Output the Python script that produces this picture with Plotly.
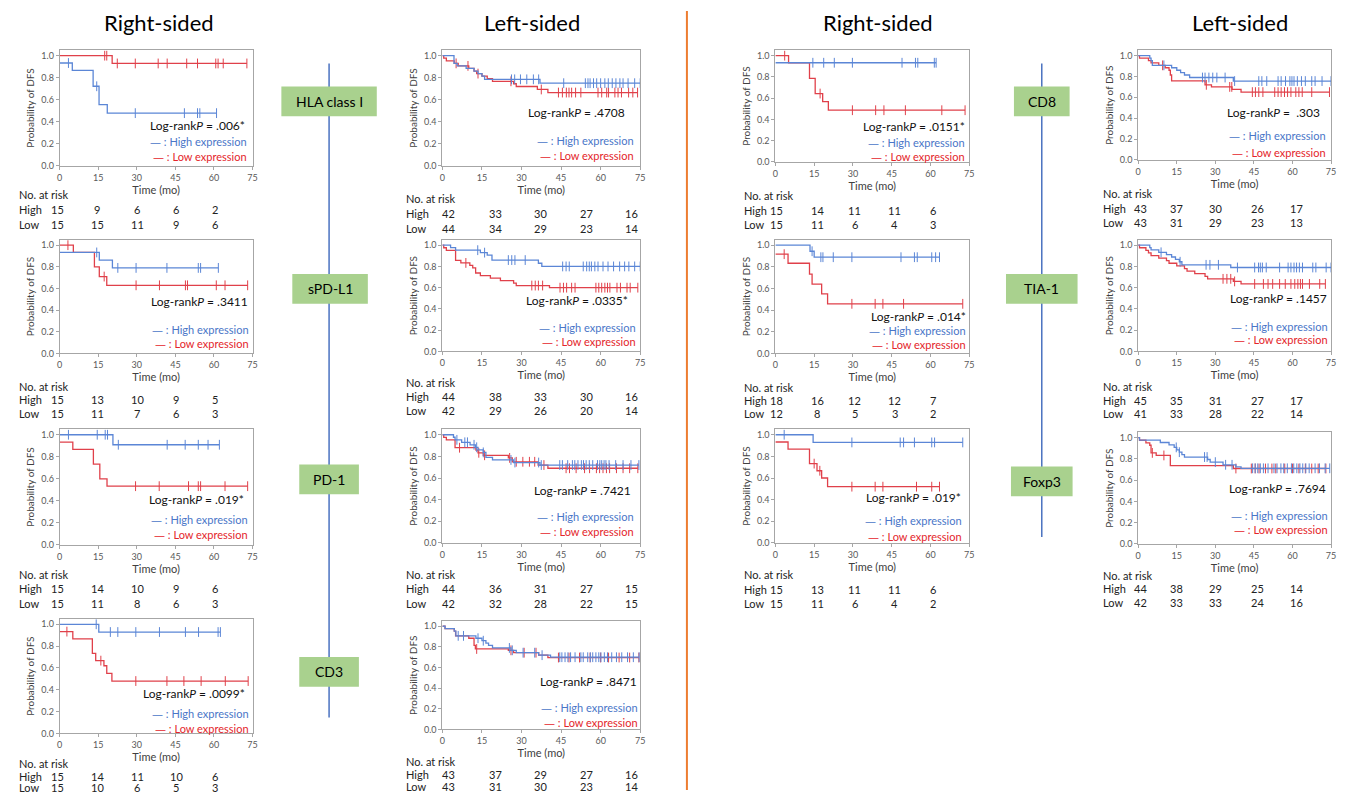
import plotly.graph_objects as go

# page body has an 8px margin: the figure is drawn at (8, 8) in the window
OFF = 8
W, H = 1333, 788
FONT = "Lato"
BLUE_LINE = "#5b86d6"
RED_LINE = "#e0404a"
BLUE_TXT = "#4a76c8"
RED_TXT = "#e4252b"
AXIS_COL = "#a6a6a6"
TICK_TXT = "#595959"

X_TICKS = [0, 15, 30, 45, 60, 75]
Y_TICKS = [0.0, 0.2, 0.4, 0.6, 0.8, 1.0]

HEADERS = ["Right-sided", "Left-sided", "Right-sided", "Left-sided"]
MARKERS = ["HLA class I", "sPD-L1", "PD-1", "CD3", "CD8", "TIA-1", "Foxp3"]

# ---------------- data: Kaplan-Meier steps (time, survival) and censor times ----------------
# 1 HLA class I, right-sided
HLA_R_HI_T = [0, 4.9, 13, 15.3, 18.5]
HLA_R_HI_S = [0.933, 0.867, 0.722, 0.556, 0.478]
HLA_R_HI_C = [3.4, 14.4, 29.4, 48.5, 53.6, 54.5, 61]
HLA_R_LO_T = [0, 20.4]
HLA_R_LO_S = [1.0, 0.929]
HLA_R_LO_C = [17.5, 18.3, 22.4, 29.4, 38.3, 41.8, 49.4, 53.6, 60.7, 61.6, 63.6, 72.8]
HLA_R_RISK_HI = [15, 9, 6, 6, 2]
HLA_R_RISK_LO = [15, 15, 11, 9, 6]

# 2 HLA class I, left-sided
HLA_L_HI_T = [0, 4.4, 5.6, 9, 12, 13.5, 15, 16, 37]
HLA_L_HI_S = [1.0, 0.93, 0.907, 0.884, 0.86, 0.837, 0.814, 0.785, 0.75]
HLA_L_HI_C = [26.2, 27.4, 29.6, 32, 34.5, 36.5, 46, 54.2, 55.2, 56, 57.3, 58.5, 60, 61.6,
              62.9, 64.4, 65.8, 67.3, 68.5, 70.4, 72.9, 75]
HLA_L_LO_T = [0, 0.5, 1.5, 4.5, 6, 10, 12, 13, 15, 17, 19, 27, 28, 36, 40]
HLA_L_LO_S = [1.0, 0.977, 0.953, 0.93, 0.907, 0.884, 0.86, 0.837, 0.814, 0.79, 0.767,
              0.745, 0.72, 0.693, 0.665]
HLA_L_LO_C = [5.2, 9.7, 13.5, 26, 37.5, 44, 45.5, 47, 48, 49, 50.5, 52.5, 59, 60.4, 62.3,
              63, 65.4, 66.6, 67.9, 70.6, 72.2, 74]
HLA_L_RISK_HI = [42, 33, 30, 27, 16]
HLA_L_RISK_LO = [44, 34, 29, 23, 14]

# 3 sPD-L1, right-sided
SPD_R_HI_T = [0, 15.4, 20.5]
SPD_R_HI_S = [0.933, 0.862, 0.79]
SPD_R_HI_C = [14.4, 22.6, 29.7, 41.7, 53.9, 54.8, 61.7]
SPD_R_LO_T = [0, 5.3, 13.5, 15.4, 18.3]
SPD_R_LO_S = [1.0, 0.933, 0.8, 0.71, 0.629]
SPD_R_LO_C = [3.2, 17.3, 29.7, 38.8, 48.9, 49.7, 60.9, 64.3, 73.1]
SPD_R_RISK_HI = [15, 13, 10, 9, 5]
SPD_R_RISK_LO = [15, 11, 7, 6, 3]

# 4 sPD-L1, left-sided
SPD_L_HI_T = [0, 3.1, 5, 14.4, 17, 18.8, 36.4, 37.7]
SPD_L_HI_S = [1.0, 0.977, 0.953, 0.93, 0.907, 0.86, 0.83, 0.80]
SPD_L_HI_C = [13.4, 16, 25, 26.3, 27.5, 31.4, 45.6, 46.9, 48.1, 53.4, 54.7, 55.7, 56.5,
              57.8, 59, 60.9, 62.8, 64.9, 67.2, 69.1, 70.7, 72.9, 75]
SPD_L_LO_T = [0, 0.5, 1.5, 5, 7, 10.4, 11.5, 12.6, 14.4, 18.2, 22, 27, 28, 40.6]
SPD_L_LO_S = [1.0, 0.976, 0.952, 0.857, 0.833, 0.81, 0.786, 0.738, 0.714, 0.69, 0.667,
              0.643, 0.62, 0.60]
SPD_L_LO_C = [8.9, 33.9, 35.2, 36.4, 38, 44.6, 45.9, 47.1, 49, 50.3, 58.2, 59.3, 60.4,
              61.6, 62.6, 63.5, 66.2, 67.5, 70, 71.2, 74.1]
SPD_L_RISK_HI = [44, 38, 33, 30, 16]
SPD_L_RISK_LO = [42, 29, 26, 20, 14]

# 5 PD-1, right-sided
PD1_R_HI_T = [0, 20.7]
PD1_R_HI_S = [1.0, 0.909]
PD1_R_HI_C = [3.4, 14.6, 17.7, 18.6, 22.8, 41.8, 48.8, 53.9, 57.7, 62.1]
PD1_R_LO_T = [0, 5.1, 13.1, 15.6, 18.4]
PD1_R_LO_S = [0.933, 0.867, 0.733, 0.6, 0.533]
PD1_R_LO_C = [29.5, 38.7, 50.1, 53.9, 54.8, 64.3, 73.1]
PD1_R_RISK_HI = [15, 14, 10, 9, 6]
PD1_R_RISK_LO = [15, 11, 8, 6, 3]

# 6 PD-1, left-sided
PD1_L_HI_T = [0, 4.2, 4.8, 7.3, 10.5, 12.5, 13.5, 15.5, 16.5, 19, 27, 37]
PD1_L_HI_S = [1.0, 0.977, 0.953, 0.93, 0.907, 0.884, 0.86, 0.837, 0.79, 0.767, 0.743, 0.72]
PD1_L_HI_C = [5.5, 8.5, 9.5, 12, 13, 15.5, 26, 27.5, 36.5, 37.5, 44.5, 45.5, 47.5, 49.3,
              50.2, 51.4, 52.7, 53.5, 54.5, 55.7, 57, 58.8, 59.7, 60.4, 61.3, 62, 63.2,
              65.7, 68.5, 71.5, 74.5]
PD1_L_LO_T = [0, 0.5, 1.5, 4.8, 12.7, 13.5, 15.5, 25, 26.5, 36.3, 40]
PD1_L_LO_S = [1.0, 0.976, 0.952, 0.88, 0.857, 0.833, 0.81, 0.786, 0.75, 0.72, 0.69]
PD1_L_LO_C = [6.5, 13.8, 16, 25.5, 28, 30.5, 33, 35, 38.5, 46.9, 48.2, 50.7, 53.9, 55.8,
              58.4, 59.6, 60.9, 62.2, 63.4, 66, 68.5, 71, 74.1]
PD1_L_RISK_HI = [44, 36, 31, 27, 15]
PD1_L_RISK_LO = [42, 32, 28, 22, 15]

# 7 CD3, right-sided
CD3_R_HI_T = [0, 15.2]
CD3_R_HI_S = [1.0, 0.929]
CD3_R_HI_C = [14.2, 19.7, 22.6, 29.6, 38.8, 48.9, 54, 61.6, 62.5]
CD3_R_LO_T = [0, 5.1, 12.7, 14, 17.2, 18.3, 20.3]
CD3_R_LO_S = [0.933, 0.867, 0.733, 0.667, 0.62, 0.55, 0.48]
CD3_R_LO_C = [2.8, 16, 29.6, 41.7, 48.3, 55, 64.4, 73.3]
CD3_R_RISK_HI = [15, 14, 11, 10, 6]
CD3_R_RISK_LO = [15, 10, 6, 5, 3]

# 8 CD3, left-sided
CD3_L_HI_T = [0, 1, 4.5, 5.1, 12.7, 15, 16.5, 17.5, 19, 26, 28, 36.5, 41]
CD3_L_HI_S = [1.0, 0.977, 0.953, 0.907, 0.884, 0.86, 0.837, 0.814, 0.79, 0.767, 0.744,
              0.72, 0.70]
CD3_L_HI_C = [6, 8, 13.5, 15.5, 25.4, 26.5, 30.6, 35, 37.8, 44.5, 45.3, 46.5, 47.6, 48.6,
              50.3, 52.5, 53.4, 55.1, 56.1, 57, 58.2, 59.3, 60.1, 61.4, 62.6, 64.2, 66,
              68, 70.2, 72.4, 74.6]
CD3_L_LO_T = [0, 1, 4.5, 5, 10, 12, 12.5, 25, 27, 36.5, 40]
CD3_L_LO_S = [1.0, 0.977, 0.953, 0.907, 0.884, 0.814, 0.78, 0.767, 0.744, 0.72, 0.697]
CD3_L_LO_C = [13, 26, 31, 35.5, 44, 48, 52, 56, 60, 63, 67, 71, 74.5]
CD3_L_RISK_HI = [43, 37, 29, 27, 16]
CD3_L_RISK_LO = [43, 31, 30, 23, 14]

# 9 CD8, right-sided
CD8_R_HI_T = [0]
CD8_R_HI_S = [0.933]
CD8_R_HI_C = [14.5, 18.7, 22.8, 29.8, 49, 54.2, 55.1, 61.5, 62.2]
CD8_R_LO_T = [0, 5.1, 13.2, 15.4, 18.3, 20.5]
CD8_R_LO_S = [1.0, 0.933, 0.786, 0.643, 0.566, 0.486]
CD8_R_LO_C = [3.6, 17.3, 29.8, 38.8, 42, 50.3, 64.4, 73.4]
CD8_R_RISK_HI = [15, 14, 11, 11, 6]
CD8_R_RISK_LO = [15, 11, 6, 4, 3]

# 10 CD8, left-sided
CD8_L_HI_T = [0, 4.5, 5, 5.5, 13, 15, 16.5, 18, 20, 37]
CD8_L_HI_S = [1.0, 0.977, 0.953, 0.907, 0.884, 0.86, 0.837, 0.814, 0.79, 0.756]
CD8_L_HI_C = [10, 25, 26, 27.5, 29, 30.6, 33.8, 37.5, 46.9, 48.1, 50, 54.4, 55.6, 57.3,
              59, 59.8, 60.6, 61.9, 63.5, 65, 67.5, 68.8, 71.5, 75]
CD8_L_LO_T = [0, 0.5, 4, 5, 8, 10.5, 12, 12.5, 13, 26, 28.5, 36.5, 40]
CD8_L_LO_S = [1.0, 0.977, 0.953, 0.93, 0.907, 0.884, 0.86, 0.814, 0.757, 0.72, 0.70,
              0.676, 0.65]
CD8_L_LO_C = [9.5, 26.5, 35.6, 36.4, 44.4, 45.6, 46.9, 48.5, 53.1, 54.4, 55.6, 56.9, 58.1,
              59.4, 61.3, 62.5, 63.8, 67.5, 74.4]
CD8_L_RISK_HI = [43, 37, 30, 26, 17]
CD8_L_RISK_LO = [43, 31, 29, 23, 13]

# 11 TIA-1, right-sided
TIA_R_HI_T = [0, 13.4, 15]
TIA_R_HI_S = [1.0, 0.944, 0.889]
TIA_R_HI_C = [14.2, 17.6, 18.4, 22.4, 29.6, 48.6, 53.8, 54.9, 60.5, 62, 63.5]
TIA_R_LO_T = [0, 4.9, 13.2, 14.2, 17.9, 20.2]
TIA_R_LO_S = [0.917, 0.833, 0.733, 0.64, 0.55, 0.458]
TIA_R_LO_C = [3.4, 29.6, 38.6, 41.6, 49.6, 72.5]
TIA_R_RISK_HI = [18, 16, 12, 12, 7]
TIA_R_RISK_LO = [12, 8, 5, 3, 2]

# 12 TIA-1, left-sided
TIA_L_HI_T = [0, 4.5, 5, 8, 11, 13, 14.5, 16, 17, 36]
TIA_L_HI_S = [1.0, 0.978, 0.956, 0.933, 0.911, 0.889, 0.867, 0.844, 0.815, 0.79]
TIA_L_HI_C = [8.9, 16.3, 26.4, 27.9, 31.2, 38.6, 45.3, 46.8, 47.5, 48.3, 49.8, 55, 58.3,
              59.4, 60.6, 61.6, 62.7, 63.9, 67.9, 69.1, 73.1, 75]
TIA_L_LO_T = [0, 0.5, 3, 4, 5, 8, 11, 12, 15, 18, 19, 22, 26, 27, 37, 40]
TIA_L_LO_S = [1.0, 0.976, 0.951, 0.927, 0.902, 0.878, 0.854, 0.83, 0.805, 0.78, 0.756,
              0.732, 0.707, 0.683, 0.659, 0.635]
TIA_L_LO_C = [33, 34.5, 36, 37.5, 45.3, 48.7, 50.5, 52.3, 55, 57.2, 59.4, 60.9, 62.1,
              63.1, 63.9, 66.6, 70.6, 72.8]
TIA_L_RISK_HI = [45, 35, 31, 27, 17]
TIA_L_RISK_LO = [41, 33, 28, 22, 14]

# 13 Foxp3, right-sided
FOX_R_HI_T = [0, 14.6]
FOX_R_HI_S = [1.0, 0.929]
FOX_R_HI_C = [3.4, 29.6, 48.3, 49.6, 53.8, 60.5, 61.6, 72.5]
FOX_R_LO_T = [0, 4.9, 13.2, 16.1, 17.9, 20.2]
FOX_R_LO_S = [0.933, 0.867, 0.733, 0.667, 0.6, 0.52]
FOX_R_LO_C = [15, 17.2, 29.6, 38.6, 41.6, 54.6, 60.5, 63.5]
FOX_R_RISK_HI = [15, 13, 11, 11, 6]
FOX_R_RISK_LO = [15, 11, 6, 4, 2]

# 14 Foxp3, left-sided
FOX_L_HI_T = [0, 0.5, 8.6, 12, 14, 15, 16, 17, 18, 27, 28, 33, 38, 40]
FOX_L_HI_S = [1.0, 0.977, 0.955, 0.932, 0.909, 0.886, 0.864, 0.841, 0.818, 0.795, 0.77,
              0.745, 0.725, 0.712]
FOX_L_HI_C = [14.8, 16, 25.8, 26.8, 30, 34, 36.5, 44.5, 45.5, 46.5, 47.5, 48.7, 50.5, 52.8,
              54, 55.5, 56.6, 58, 59.6, 60.5, 61.7, 62.9, 64, 65.2, 66.5, 68.8, 70.5,
              72.7, 74.5]
FOX_L_LO_T = [0, 0.5, 3, 4.5, 5, 7, 12.5, 37]
FOX_L_LO_S = [1.0, 0.976, 0.952, 0.929, 0.857, 0.833, 0.738, 0.71]
FOX_L_LO_C = [5.5, 10, 38, 44, 45.5, 47, 49.5, 52, 53.5, 57, 60, 62.5, 65, 67.5, 70, 73]
FOX_L_RISK_HI = [44, 38, 29, 25, 14]
FOX_L_RISK_LO = [42, 33, 33, 24, 16]

P_VALUES = [".006*", ".4708", ".3411", ".0335*", ".019*", ".7421", ".0099*", ".8471",
            ".0151*", " .303", ".014*", ".1457", ".019*", ".7694"]

CURVES = [
    (HLA_R_HI_T, HLA_R_HI_S, HLA_R_HI_C, HLA_R_LO_T, HLA_R_LO_S, HLA_R_LO_C, HLA_R_RISK_HI, HLA_R_RISK_LO),
    (HLA_L_HI_T, HLA_L_HI_S, HLA_L_HI_C, HLA_L_LO_T, HLA_L_LO_S, HLA_L_LO_C, HLA_L_RISK_HI, HLA_L_RISK_LO),
    (SPD_R_HI_T, SPD_R_HI_S, SPD_R_HI_C, SPD_R_LO_T, SPD_R_LO_S, SPD_R_LO_C, SPD_R_RISK_HI, SPD_R_RISK_LO),
    (SPD_L_HI_T, SPD_L_HI_S, SPD_L_HI_C, SPD_L_LO_T, SPD_L_LO_S, SPD_L_LO_C, SPD_L_RISK_HI, SPD_L_RISK_LO),
    (PD1_R_HI_T, PD1_R_HI_S, PD1_R_HI_C, PD1_R_LO_T, PD1_R_LO_S, PD1_R_LO_C, PD1_R_RISK_HI, PD1_R_RISK_LO),
    (PD1_L_HI_T, PD1_L_HI_S, PD1_L_HI_C, PD1_L_LO_T, PD1_L_LO_S, PD1_L_LO_C, PD1_L_RISK_HI, PD1_L_RISK_LO),
    (CD3_R_HI_T, CD3_R_HI_S, CD3_R_HI_C, CD3_R_LO_T, CD3_R_LO_S, CD3_R_LO_C, CD3_R_RISK_HI, CD3_R_RISK_LO),
    (CD3_L_HI_T, CD3_L_HI_S, CD3_L_HI_C, CD3_L_LO_T, CD3_L_LO_S, CD3_L_LO_C, CD3_L_RISK_HI, CD3_L_RISK_LO),
    (CD8_R_HI_T, CD8_R_HI_S, CD8_R_HI_C, CD8_R_LO_T, CD8_R_LO_S, CD8_R_LO_C, CD8_R_RISK_HI, CD8_R_RISK_LO),
    (CD8_L_HI_T, CD8_L_HI_S, CD8_L_HI_C, CD8_L_LO_T, CD8_L_LO_S, CD8_L_LO_C, CD8_L_RISK_HI, CD8_L_RISK_LO),
    (TIA_R_HI_T, TIA_R_HI_S, TIA_R_HI_C, TIA_R_LO_T, TIA_R_LO_S, TIA_R_LO_C, TIA_R_RISK_HI, TIA_R_RISK_LO),
    (TIA_L_HI_T, TIA_L_HI_S, TIA_L_HI_C, TIA_L_LO_T, TIA_L_LO_S, TIA_L_LO_C, TIA_L_RISK_HI, TIA_L_RISK_LO),
    (FOX_R_HI_T, FOX_R_HI_S, FOX_R_HI_C, FOX_R_LO_T, FOX_R_LO_S, FOX_R_LO_C, FOX_R_RISK_HI, FOX_R_RISK_LO),
    (FOX_L_HI_T, FOX_L_HI_S, FOX_L_HI_C, FOX_L_LO_T, FOX_L_LO_S, FOX_L_LO_C, FOX_L_RISK_HI, FOX_L_RISK_LO),
]

# ---------------- layout (window pixel geometry) ----------------
# box: x of t=0, x of t=75, y px of 1.0, y px of 0.0 ; column index
BOXES = [
    (57, 251, 55, 166, 0), (442, 641, 55, 166, 1),
    (57, 251, 246, 355, 0), (442, 641, 246, 353, 1),
    (57, 251, 437, 548, 0), (442, 641, 437, 546, 1),
    (57, 251, 628, 738, 0), (442, 641, 630, 734, 1),
    (777, 972, 55, 162, 2), (1142, 1336, 55, 160, 3),
    (777, 972, 246, 355, 2), (1142, 1336, 246, 353, 3),
    (777, 972, 437, 546, 2), (1142, 1336, 440, 547, 3),
]
# rows of the at-risk table: "No. at risk", High, Low (y px)
RISK_ROWS = [
    (195, 210, 225), (199, 214, 229), (388, 401, 416), (384, 398, 413),
    (578, 592, 607), (578, 592, 607), (768, 781, 792), (766, 779, 791),
    (196, 211, 225), (194, 209, 223), (389, 402, 416), (388, 402, 416),
    (578, 593, 607), (579, 592, 606),
]
RISK_LABEL_X = [14, 403, 743, 1105]
RISK_COLS_X = [[55, 95, 135, 174, 213], [448, 495, 541, 587, 632],
               [778, 819, 857, 897, 936], [1144, 1181, 1220, 1262, 1301]]
# annotation placement in data coords: (p_x, p_y, leg_x, leg_hi_y, leg_lo_y)
TEXT_POS = [
    (73, 0.37, 73.5, 0.216, 0.08), (70, 0.48, 73.5, 0.225, 0.09),
    (74, 0.477, 74.5, 0.22, 0.083), (71, 0.477, 74, 0.224, 0.084),
    (72.6, 0.414, 74, 0.225, 0.09), (72.4, 0.486, 73.4, 0.239, 0.10),
    (72.8, 0.364, 74.5, 0.18, 0.045), (74.5, 0.46, 75, 0.21, 0.067),
    (74, 0.336, 74.3, 0.178, 0.047), (71.5, 0.457, 73.8, 0.23, 0.067),
    (74.5, 0.34, 74.7, 0.21, 0.073), (74.3, 0.495, 74.6, 0.234, 0.103),
    (72.5, 0.42, 73, 0.2, 0.055), (73.9, 0.523, 74.6, 0.262, 0.13),
]
HEADER_POS = [(157, 22), (532, 22), (880, 22), (1244, 22)]
MARKER_BOX = [(280, 376, 86, 116), (291, 367, 275, 305), (298, 358, 467, 497),
              (298, 358, 661, 691), (1017, 1073, 86, 116), (1009, 1081, 275, 305),
              (1014, 1076, 469, 499)]


def px(x):
    return (x - OFF) / W


def py(y):
    return 1 - (y - OFF) / H


def surv_at(ts, ss, c):
    val = ss[0]
    for t, s in zip(ts, ss):
        if t <= c:
            val = s
    return val


DASH = "<span style='font-family:DejaVu Sans'>\u2014</span>"

fig = go.Figure()
annotations = []
shapes = []
axes = {}

for i, (curves, box, rows, tpos, pval) in enumerate(
        zip(CURVES, BOXES, RISK_ROWS, TEXT_POS, P_VALUES), start=1):
    hi_t, hi_s, hi_c, lo_t, lo_s, lo_c, risk_hi, risk_lo = curves
    x0, x1, y1px, y0px, col = box
    top = y1px - 0.05 * (y0px - y1px)
    sfx = "" if i == 1 else str(i)
    xa, ya = "x" + sfx, "y" + sfx
    axes["xaxis" + sfx] = dict(
        domain=[px(x0), px(x1)], anchor=ya, range=[0, 75], tickvals=X_TICKS,
        showline=True, mirror=True, linecolor=AXIS_COL, linewidth=1,
        ticks="outside", ticklen=3, tickcolor=AXIS_COL, showgrid=False, zeroline=False,
        tickfont=dict(size=9, color=TICK_TXT, family=FONT),
        title=dict(text="Time (mo)", font=dict(size=11, color="#404040", family=FONT), standoff=1),
    )
    axes["yaxis" + sfx] = dict(
        domain=[py(y0px), py(top)], anchor=xa, range=[0, 1.05], tickvals=Y_TICKS,
        tickformat=".1f", showline=True, mirror=True, linecolor=AXIS_COL, linewidth=1,
        ticks="outside", ticklen=3, tickcolor=AXIS_COL, showgrid=False, zeroline=False,
        tickfont=dict(size=9, color=TICK_TXT, family=FONT),
        title=dict(text="Probability of DFS", font=dict(size=10, color="#404040", family=FONT), standoff=4),
    )

    for ts, ss, cs, col_line in ((lo_t, lo_s, lo_c, RED_LINE), (hi_t, hi_s, hi_c, BLUE_LINE)):
        t_end = max(max(cs), ts[-1])
        fig.add_trace(go.Scatter(
            x=list(ts) + [t_end], y=list(ss) + [ss[-1]], mode="lines",
            line=dict(color=col_line, width=1.3, shape="hv"),
            xaxis=xa, yaxis=ya, showlegend=False, hoverinfo="skip"))
        fig.add_trace(go.Scatter(
            x=cs, y=[surv_at(ts, ss, c) for c in cs], mode="markers",
            marker=dict(symbol="line-ns", size=7, line=dict(color=col_line, width=1)),
            xaxis=xa, yaxis=ya, showlegend=False, hoverinfo="skip"))

    p_x, p_y, lx, lhy, lly = tpos
    annotations.append(dict(x=p_x, y=p_y, xref=xa, yref=ya, xanchor="right", yanchor="middle",
                            text="Log-rank<i>P</i> = " + pval, showarrow=False,
                            font=dict(size=12, color="#111111", family=FONT)))
    annotations.append(dict(x=lx, y=lhy, xref=xa, yref=ya, xanchor="right", yanchor="middle",
                            text=DASH + " : High expression", showarrow=False,
                            font=dict(size=11, color=BLUE_TXT, family=FONT)))
    annotations.append(dict(x=lx, y=lly, xref=xa, yref=ya, xanchor="right", yanchor="middle",
                            text=DASH + " : Low expression", showarrow=False,
                            font=dict(size=11, color=RED_TXT, family=FONT)))

    # at-risk table
    ny, hy, ly = rows
    lx0 = RISK_LABEL_X[col]
    rfont = dict(size=11, color="#222222", family=FONT)
    annotations.append(dict(x=px(lx0), y=py(ny), xref="paper", yref="paper", xanchor="left",
                            yanchor="middle", text="No. at risk", showarrow=False, font=rfont))
    for label, yy, vals in (("High", hy, risk_hi), ("Low", ly, risk_lo)):
        annotations.append(dict(x=px(lx0), y=py(yy), xref="paper", yref="paper", xanchor="left",
                                yanchor="middle", text=label, showarrow=False, font=rfont))
        for xc, v in zip(RISK_COLS_X[col], vals):
            annotations.append(dict(x=px(xc), y=py(yy), xref="paper", yref="paper",
                                    xanchor="center", yanchor="middle", text=str(v),
                                    showarrow=False, font=rfont))

# headers
for (hx, hy), txt in zip(HEADER_POS, HEADERS):
    annotations.append(dict(x=px(hx), y=py(hy), xref="paper", yref="paper", xanchor="center",
                            yanchor="middle", text=txt, showarrow=False,
                            font=dict(size=22, color="#000000", family=FONT)))

# separator lines
shapes.append(dict(type="line", xref="paper", yref="paper", x0=px(688), x1=px(688),
                   y0=py(10), y1=py(795), line=dict(color="#ed7d31", width=2)))
shapes.append(dict(type="line", xref="paper", yref="paper", x0=px(328), x1=px(328),
                   y0=py(63), y1=py(722), line=dict(color="#4a72c0", width=1.5)))
shapes.append(dict(type="line", xref="paper", yref="paper", x0=px(1045), x1=px(1045),
                   y0=py(63), y1=py(540), line=dict(color="#4a72c0", width=1.5)))

# marker label boxes
for (bx0, bx1, by0, by1), txt in zip(MARKER_BOX, MARKERS):
    shapes.append(dict(type="rect", xref="paper", yref="paper", x0=px(bx0), x1=px(bx1),
                       y0=py(by1), y1=py(by0), fillcolor="#a9d18e", line=dict(width=0),
                       layer="above"))
    annotations.append(dict(x=px((bx0 + bx1) / 2), y=py((by0 + by1) / 2), xref="paper",
                            yref="paper", xanchor="center", yanchor="middle", text=txt,
                            showarrow=False, font=dict(size=14, color="#000000", family=FONT)))

fig.update_layout(
    width=W, height=H, margin=dict(l=0, r=0, t=0, b=0),
    paper_bgcolor="white", plot_bgcolor="white", showlegend=False,
    annotations=annotations, shapes=shapes, **axes)

fig.write_html("out.html")
